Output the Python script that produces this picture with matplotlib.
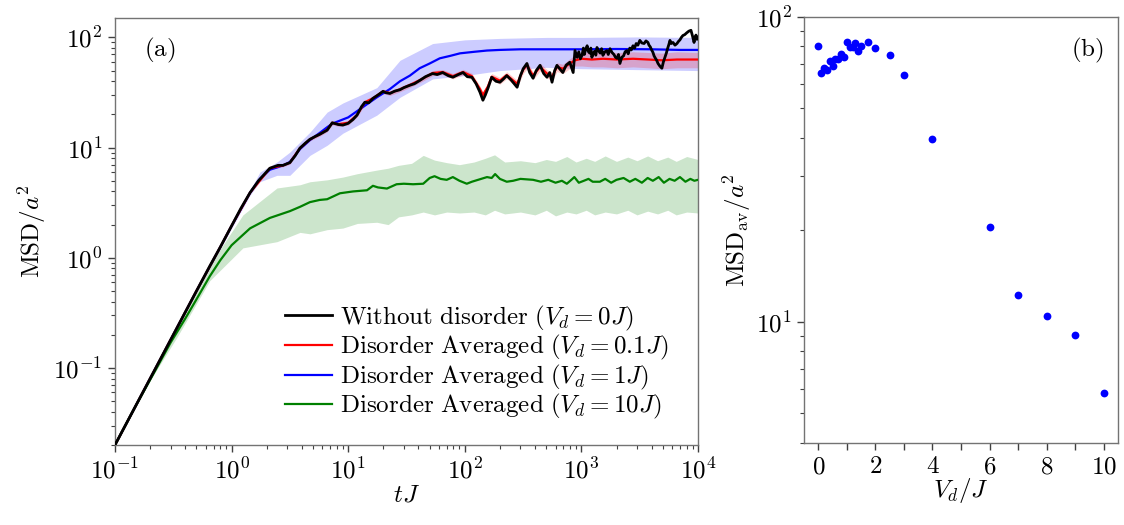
import numpy as np
import matplotlib
matplotlib.use('Agg')
import matplotlib.pyplot as plt
from matplotlib.ticker import FuncFormatter, LogLocator, MultipleLocator, NullFormatter

plt.rcParams['mathtext.fontset'] = 'cm'
plt.rcParams['font.family'] = ['DejaVu Serif']

# ---- panel (a): MSD vs time ----
black_t = [0.1, 0.15, 0.2, 0.3, 0.4, 0.5, 0.65, 0.8, 1.0, 1.2, 1.44, 1.7, 2.13, 2.5, 2.76, 3.16, 3.5, 3.86,
           4.3, 4.7, 5.2, 5.7, 6.6, 7.3, 8.2, 9.0, 10, 11, 11.9, 13, 13.9, 15, 16.3, 18, 19.9, 21, 22.8, 25,
           27.8, 30, 33.8, 37, 41.3, 46, 53, 58, 64.6, 72, 79, 88, 96.6, 105, 115, 125, 135, 143, 150, 158,
           170, 185, 200, 215, 229, 250, 265, 281, 300, 317, 341, 360, 385, 410, 442, 475, 507, 535, 560,
           590, 617, 650, 693, 740, 795, 850, 881, 920, 950, 980, 1012, 1040, 1060, 1090, 1120, 1150, 1180,
           1205, 1230, 1265, 1300, 1330, 1360, 1400, 1450, 1490, 1530, 1590, 1650, 1700, 1760, 1830, 1900,
           1960, 2020, 2080, 2140, 2220, 2300, 2370, 2450, 2520, 2600, 2680, 2770, 2860, 2950, 3050, 3170,
           3300, 3450, 3580, 3720, 3800, 3900, 4000, 4110, 4200, 4300, 4420, 4540, 4700, 4900, 5050, 5210,
           5350, 5500, 5620, 5750, 5900, 6100, 6350, 6600, 6800, 7000, 7200, 7420, 7700, 8000, 8350, 8700,
           8950, 9250, 9400, 9600, 9800, 10000]
black_msd = [0.02, 0.045, 0.08, 0.18, 0.32, 0.5, 0.84, 1.25, 1.95, 2.8, 3.9, 5.0, 6.5, 6.9, 6.9, 7.3, 8.4, 9.9,
             11.0, 11.9, 12.6, 13.2, 14.4, 16.8, 16.2, 16.0, 16.6, 18.0, 19.7, 23.5, 25.8, 25.5, 28, 30, 32.4,
             31.5, 31, 32.5, 33.5, 35, 36.8, 38, 40.8, 44, 47, 46, 48, 45, 43.5, 46, 48, 44, 43.5, 38, 31.8,
             26.9, 30, 34.6, 43.5, 40, 39.2, 42, 45, 41, 38, 35.3, 45, 52, 58, 48, 42.6, 50, 55.8, 47, 43.5,
             48, 39.2, 50, 55.8, 52, 48, 56, 59.5, 48, 76, 66, 74, 64, 68.7, 80, 70, 78, 84, 74, 72,
             80, 66, 72, 75, 69, 81, 76, 72, 79, 68.7, 74, 76, 70, 79, 73, 70,
             66, 64.6, 70, 58, 66, 68, 74, 76, 71, 80, 77, 84, 80, 88, 85, 94,
             89, 88, 93, 90, 85, 82, 77, 73, 68, 65, 62, 58, 55, 52.5, 60, 66,
             72, 80, 86, 94, 88, 90, 85, 88, 92, 95, 100, 104, 106, 110, 114, 116,
             104, 90, 98, 105, 96, 100]

red_t = [0.1, 0.2, 0.3, 0.5, 0.8, 1.0, 1.44, 2.13, 2.76, 3.16, 3.86, 4.7, 5.7, 6.6, 7.3, 8.2, 10, 11.9, 13.9,
         16.3, 19.9, 22.8, 27.8, 33.8, 41.3, 53, 64.6, 79, 96.6, 115, 135, 143, 158, 170, 200, 229, 281, 317,
         341, 385, 442, 507, 560, 617, 693, 795, 881, 1012, 1230, 1530, 2020, 2770, 3720, 4900, 6600, 10000]
red_msd = [0.02, 0.08, 0.18, 0.5, 1.25, 1.95, 3.9, 6.5, 6.9, 7.3, 9.9, 11.9, 13.2, 14.5, 16.8, 16.3, 16.8, 19.8,
           25.8, 28, 32.4, 31.2, 33.8, 37, 41, 47.5, 48.5, 44.5, 48.5, 44.5, 34, 30, 36, 44, 40.5, 45.5, 38,
           51, 56, 45, 54, 47, 44, 54, 52, 58, 62, 64, 63, 64, 63, 64, 63, 62, 63, 63]
red_lo = [0.0197, 0.079, 0.178, 0.49, 1.23, 1.92, 3.83, 6.35, 6.7, 7.05, 9.6, 11.5, 12.7, 13.9, 16.1, 15.6, 16.0,
          18.9, 24.6, 26.7, 30.9, 29.7, 32.1, 35.1, 38.9, 45, 45.9, 42, 45.7, 41.8, 31.8, 28, 33.6, 41, 37.6,
          42.2, 35.1, 47, 51.5, 41.3, 49.5, 43, 40, 49, 47, 52, 55, 55, 54, 54, 53, 54, 53, 52, 53, 53]
red_hi = [0.0203, 0.081, 0.182, 0.51, 1.27, 1.98, 3.97, 6.65, 7.1, 7.55, 10.2, 12.3, 13.7, 15.1, 17.5, 17.0, 17.6,
          20.7, 27.0, 29.3, 33.9, 32.7, 35.5, 38.9, 43.1, 50, 51.1, 47, 51.3, 47.2, 36.2, 32, 38.4, 47, 43.4,
          48.8, 40.9, 55, 60.5, 48.7, 58.5, 51, 48, 59, 57, 64, 69, 73, 73, 74, 73, 74, 73, 72, 74, 73]

blue_t = [0.1, 0.2, 0.3, 0.5, 0.8, 1.0, 1.44, 1.75, 2.13, 2.45, 2.76, 3.16, 3.86, 4.7, 5.7, 6.6, 7.3, 9, 10,
          13.9, 17.6, 22.8, 27.8, 33.8, 41, 50, 61, 75, 91, 120, 155, 200, 300, 500, 1000, 2000, 4000, 7000, 10000]
blue_msd = [0.02, 0.08, 0.18, 0.5, 1.25, 1.95, 3.9, 5.2, 6.3, 6.6, 6.9, 7.4, 9.7, 11.7, 13.6, 15.3, 16.5, 18,
            18.8, 24, 28.6, 34, 40, 45, 52.5, 58, 64.6, 68, 71.7, 74, 76, 77, 78, 78, 78, 78.5, 78, 77, 77]
blue_band_t = [0.1, 0.5, 1.0, 1.44, 1.75, 2.45, 3.16, 4.7, 6.6, 9, 17.6, 27.8, 53, 100, 200, 500, 1000, 3000, 10000]
blue_lo = [0.0198, 0.49, 1.85, 3.7, 4.9, 5.6, 5.6, 8.5, 10.5, 13.5, 19.7, 28.6, 42, 45, 50, 53.5, 52, 51, 50]
blue_hi = [0.0202, 0.51, 2.05, 4.1, 6.0, 7.4, 9.1, 13.8, 21, 25.4, 35, 62, 88, 95, 98, 100, 100, 101, 100]

green_t = [0.1, 0.15, 0.2, 0.3, 0.4, 0.5, 0.65, 0.8, 1.0, 1.44, 2.13, 3.16, 3.86, 4.7, 5.7, 6.6, 8.5, 11, 14.5,
           16.3, 18, 21.5, 26, 30, 36, 44, 50, 55, 62, 70, 79, 90, 104, 115, 130, 155, 170, 182, 200, 229, 260,
           300, 385, 450, 520, 600, 680, 750, 820, 870, 950, 1050, 1150, 1250, 1440, 1600, 1800, 2000, 2300,
           2600, 2900, 3300, 3700, 4100, 4600, 5100, 5700, 6300, 7000, 7800, 8600, 9300, 10000]
green_msd = [0.02, 0.045, 0.078, 0.17, 0.28, 0.42, 0.68, 0.95, 1.3, 1.85, 2.3, 2.65, 2.9, 3.2, 3.35, 3.4, 3.85,
             4.0, 4.1, 4.5, 4.35, 4.25, 4.65, 4.7, 4.65, 4.7, 5.3, 5.5, 5.2, 5.1, 5.4, 5.0, 4.7, 4.9, 5.1, 5.4,
             5.3, 5.75, 5.2, 4.9, 5.0, 5.2, 5.1, 4.9, 5.1, 4.8, 5.0, 4.7, 5.1, 5.4, 4.8, 5.0, 5.2, 4.9, 4.9,
             5.2, 4.8, 5.1, 5.3, 4.9, 5.2, 4.8, 5.3, 5.0, 5.4, 4.8, 5.2, 5.0, 5.4, 4.9, 5.2, 5.0, 5.1]
green_band_t = [0.1, 0.2, 0.34, 0.65, 1.25, 2.45, 3.86, 4.7, 6.6, 9, 12, 17.6, 22, 27, 35, 44, 55, 70, 90, 120,
                150, 180, 220, 300, 400, 500, 600, 750, 900, 1100, 1300, 1600, 2000, 2500, 3000, 3700, 4500,
                5500, 6500, 8000, 10000]
green_lo = [0.0198, 0.077, 0.19, 0.62, 1.23, 1.4, 1.7, 1.65, 1.8, 1.86, 2.05, 2.1, 2.0, 2.35, 2.45, 2.6, 2.45,
            2.6, 2.55, 2.6, 2.45, 2.7, 2.5, 2.6, 2.45, 2.7, 2.4, 2.6, 2.5, 2.7, 2.45, 2.6, 2.5, 2.7, 2.45, 2.65,
            2.5, 2.7, 2.45, 2.6, 2.55]
green_hi = [0.0202, 0.079, 0.22, 0.86, 2.45, 4.3, 4.6, 4.9, 5.1, 5.4, 5.8, 6.25, 6.5, 6.9, 7.2, 8.5, 7.7, 7.3,
            7.0, 7.4, 8.0, 8.6, 7.4, 7.6, 7.3, 7.8, 7.5, 8.3, 7.4, 8.0, 7.5, 8.4, 7.5, 8.2, 7.6, 8.4, 7.6, 8.2,
            7.5, 8.3, 7.8]

legend_labels = [r'$\mathrm{Without\ disorder}\ (V_d = 0J)$',
                 r'$\mathrm{Disorder\ Averaged}\ (V_d = 0.1J)$',
                 r'$\mathrm{Disorder\ Averaged}\ (V_d = 1J)$',
                 r'$\mathrm{Disorder\ Averaged}\ (V_d = 10J)$']

# ---- panel (b): averaged MSD vs disorder strength ----
vd = [0, 0.1, 0.2, 0.3, 0.4, 0.5, 0.6, 0.7, 0.8, 0.9, 1.0, 1.1, 1.2, 1.3, 1.4, 1.5, 1.75, 2.0, 2.5, 3.0,
      4.0, 6.0, 7.0, 8.0, 9.0, 10.0]
msd_av = [80.2, 65.3, 67.8, 67.0, 71.3, 68.7, 72.6, 72.6, 75.5, 74.0, 82.8, 79.4, 79.4, 81.8, 76.9, 80.2,
          82.4, 78.9, 74.8, 64.3, 39.7, 20.4, 12.2, 10.4, 9.07, 5.85]

FS = 18
spine_col = '0.45'

fig = plt.figure(figsize=(11.24, 5.25), dpi=100)
ax1 = fig.add_axes([0.1023, 0.1524, 0.5187, 0.8133])
ax2 = fig.add_axes([0.7153, 0.1562, 0.2794, 0.812])

ax1.fill_between(blue_band_t, blue_lo, blue_hi, color='blue', alpha=0.2, lw=0)
ax1.fill_between(red_t, red_lo, red_hi, color='red', alpha=0.2, lw=0)
ax1.fill_between(green_band_t, green_lo, green_hi, color='green', alpha=0.2, lw=0)
l_blue, = ax1.plot(blue_t, blue_msd, color='blue', lw=1.6, zorder=3)
l_red, = ax1.plot(red_t, red_msd, color='red', lw=1.6, zorder=3)
l_green, = ax1.plot(green_t, green_msd, color='green', lw=1.6, zorder=3)
l_black, = ax1.plot(black_t, black_msd, color='black', lw=2.0, zorder=4)

ax1.set_xscale('log')
ax1.set_yscale('log')
ax1.set_xlim(0.1, 1e4)
ax1.set_ylim(0.02, 150)
fmt_pow = FuncFormatter(lambda v, p: r'$10^{%d}$' % round(np.log10(v)))
ax1.xaxis.set_major_locator(LogLocator(base=10, numticks=10))
ax1.yaxis.set_major_locator(LogLocator(base=10, numticks=10))
ax1.xaxis.set_major_formatter(fmt_pow)
ax1.yaxis.set_major_formatter(fmt_pow)
ax1.xaxis.set_minor_locator(LogLocator(base=10, subs=np.arange(2, 10), numticks=20))
ax1.yaxis.set_minor_locator(LogLocator(base=10, subs=np.arange(2, 10), numticks=20))
ax1.xaxis.set_minor_formatter(NullFormatter())
ax1.yaxis.set_minor_formatter(NullFormatter())
ax1.set_xlabel(r'$tJ$', fontsize=FS, labelpad=0)
ax1.set_ylabel(r'$\mathrm{MSD}/a^2$', fontsize=FS, labelpad=4)
ax1.text(0.05, 0.925, r'$(\mathrm{a})$', transform=ax1.transAxes, fontsize=FS, va='center')
ax1.legend([l_black, l_red, l_blue, l_green], legend_labels, loc='lower right',
           bbox_to_anchor=(0.975, 0.02), frameon=False, fontsize=FS, handlelength=1.9,
           handletextpad=0.3, labelspacing=0.02, borderaxespad=0.2)

ax2.plot(vd, msd_av, 'o', color='blue', markersize=5.6, markeredgewidth=0)
ax2.set_yscale('log')
ax2.set_xlim(-0.5, 10.5)
ax2.set_ylim(4, 100)
ax2.xaxis.set_major_locator(MultipleLocator(2))
ax2.xaxis.set_minor_locator(MultipleLocator(1))
ax2.xaxis.set_major_formatter(FuncFormatter(lambda v, p: r'$%d$' % round(v)))
ax2.yaxis.set_major_locator(LogLocator(base=10, numticks=10))
ax2.yaxis.set_major_formatter(fmt_pow)
ax2.yaxis.set_minor_locator(LogLocator(base=10, subs=np.arange(2, 10), numticks=20))
ax2.yaxis.set_minor_formatter(NullFormatter())
ax2.set_xlabel(r'$V_d/J$', fontsize=FS, labelpad=-2)
ax2.set_ylabel(r'$\mathrm{MSD}_{\mathrm{av}}/a^2$', fontsize=FS, labelpad=2)
ax2.text(0.85, 0.92, r'$(\mathrm{b})$', transform=ax2.transAxes, fontsize=FS, va='center')

for ax in (ax1, ax2):
    for s in ax.spines.values():
        s.set_color(spine_col)
        s.set_linewidth(1.0)
    ax.tick_params(which='major', length=5, width=1.0, color='0.25', labelsize=FS, pad=4)
    ax.tick_params(which='minor', length=3, width=0.8, color='0.25')
ax2.tick_params(axis='x', which='minor', length=5, width=1.0)

fig.savefig('out.png', dpi=100)
